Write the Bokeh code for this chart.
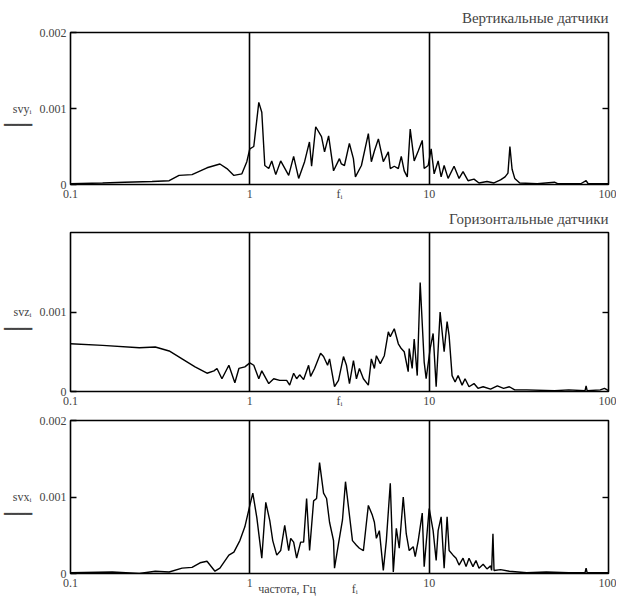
from bokeh.plotting import figure
from bokeh.layouts import column
from bokeh.models import FixedTicker, CustomJSTickFormatter, LinearAxis, Range1d
from bokeh.embed import file_html
from bokeh.resources import INLINE

# ---------------- data ----------------
freq_v = [0.1, 0.151, 0.2, 0.285, 0.355, 0.403, 0.476, 0.577, 0.681, 0.745, 0.815, 0.903,
          0.962, 1.0, 1.052, 1.122, 1.166, 1.212, 1.275, 1.325, 1.395, 1.486, 1.647, 1.755,
          1.872, 2.02, 2.15, 2.21, 2.33, 2.51, 2.61, 2.75, 2.93, 3.16, 3.24, 3.37, 3.59,
          3.78, 3.88, 4.19, 4.58, 4.76, 4.95, 5.21, 5.55, 5.92, 6.07, 6.39, 6.73, 6.99,
          7.26, 7.55, 7.84, 8.25, 8.69, 9.15, 9.38, 9.87, 10.26, 10.66, 11.22, 11.66, 12.12,
          12.75, 13.77, 14.68, 15.45, 16.47, 17.78, 18.96, 21, 23, 25, 26.5, 27.5, 28.2, 29,
          30, 32, 40, 50, 52, 70, 75, 77, 100]
svy = [0.00001, 0.00002, 0.00003, 0.00004, 0.00005, 0.00012, 0.00013, 0.00022, 0.00027,
       0.00021, 0.00012, 0.00014, 0.0003, 0.00047, 0.0005, 0.00108, 0.00095, 0.00025,
       0.00021, 0.00031, 0.00013, 0.00031, 0.00012, 0.00037, 0.00008, 0.0003, 0.00056,
       0.00024, 0.00076, 0.00063, 0.00043, 0.00064, 0.00018, 0.00034, 0.00027, 0.00025,
       0.00054, 0.00034, 0.0001, 0.00025, 0.00067, 0.0003, 0.00044, 0.0006, 0.0003,
       0.00043, 0.00021, 0.00024, 0.00021, 0.00037, 0.00018, 0.0001, 0.00073, 0.00031,
       0.00044, 0.00058, 0.00021, 0.00025, 0.00047, 0.00014, 0.00031, 0.0001, 0.00025,
       0.00008, 0.00024, 0.00008, 0.00017, 0.00005, 0.00007, 0.00002, 0.00004, 0.00002,
       0.00006, 0.0001, 0.00015, 0.0005, 0.0002, 0.00008, 0.00002, 0.00001, 0.00003,
       0.00001, 0.00001, 0.00005, 0.00001, 0.00001]

freq_z = [0.1, 0.151, 0.242, 0.297, 0.355, 0.419, 0.495, 0.577, 0.631, 0.656, 0.699, 0.764,
          0.825, 0.869, 0.938, 1.0, 1.052, 1.122, 1.166, 1.275, 1.359, 1.468, 1.605, 1.668,
          1.755, 1.824, 1.896, 1.995, 2.127, 2.182, 2.296, 2.48, 2.577, 2.713, 2.783, 2.966,
          3.122, 3.328, 3.458, 3.594, 3.783, 3.93, 4.084, 4.298, 4.58, 4.76, 4.95, 5.077,
          5.34, 5.623, 5.92, 6.07, 6.39, 6.73, 6.99, 7.26, 7.64, 7.74, 8.04, 8.25, 8.58,
          8.91, 9.38, 9.62, 10.13, 10.52, 10.94, 11.51, 12.12, 12.59, 12.92, 13.42, 13.95,
          14.5, 15.26, 15.85, 16.68, 17.78, 18.72, 20, 22, 24, 26, 28, 30, 35, 50, 60, 74,
          75, 76, 90, 95, 100]
svz = [0.0006, 0.00058, 0.00055, 0.00056, 0.00051, 0.00041, 0.00031, 0.00023, 0.00026,
       0.00029, 0.00016, 0.00033, 0.00011, 0.00029, 0.00031, 0.00036, 0.00033, 0.00016,
       0.00026, 0.0001, 0.00016, 0.00014, 0.00014, 0.00008, 0.00023, 0.00016, 0.00021,
       0.00015, 0.00033, 0.00019, 0.00029, 0.00048, 0.00044, 0.00033, 0.00041, 0.00006,
       0.00014, 0.00044, 0.00033, 0.0001, 0.00039, 0.00016, 0.00029, 0.00016, 0.00008,
       0.00041, 0.00029, 0.00045, 0.00035, 0.00045, 0.00075, 0.00069, 0.00079, 0.0006,
       0.00054, 0.0005, 0.00025, 0.00054, 0.00029, 0.00066, 0.0002, 0.00137, 0.00037,
       0.00016, 0.00054, 0.00073, 0.00006, 0.001, 0.0005, 0.00088, 0.0007, 0.0002,
       0.00012, 0.0002, 0.00008, 0.00016, 0.00006, 0.0001, 0.00004, 0.00006, 0.00003,
       0.00007, 0.00004, 0.00006, 0.00002, 0.00002, 0.00001, 0.00002, 0.00001, 0.00007,
       0.00001, 0.00002, 0.00004, 0.00001]

freq_x = [0.1, 0.171, 0.242, 0.297, 0.355, 0.419, 0.476, 0.528, 0.577, 0.639, 0.681, 0.764,
          0.815, 0.88, 0.938, 1.0, 1.039, 1.094, 1.166, 1.227, 1.292, 1.342, 1.413, 1.486,
          1.565, 1.647, 1.69, 1.755, 1.824, 1.92, 1.995, 2.073, 2.154, 2.268, 2.356, 2.448,
          2.577, 2.679, 2.783, 2.929, 2.966, 3.122, 3.286, 3.415, 3.548, 3.735, 3.93, 4.084,
          4.298, 4.467, 4.58, 4.823, 4.95, 5.077, 5.275, 5.55, 5.77, 6.07, 6.31, 6.56, 6.81,
          7.17, 7.45, 7.74, 8.15, 8.36, 8.69, 9.15, 9.38, 10.0, 10.52, 10.94, 11.22, 11.66,
          12.12, 12.59, 12.92, 13.59, 14.13, 14.68, 15.45, 16.06, 16.68, 17.55, 18.24,
          18.96, 20, 21, 22, 22.3, 22.68, 23.0, 25, 28, 35, 45, 60, 74, 75, 76, 100]
svx = [0.00001, 0.00002, 0.0, 0.00003, 0.00002, 0.00007, 0.00008, 0.00014, 0.00016, 0.00003,
       0.00007, 0.00024, 0.00028, 0.00043, 0.00061, 0.00089, 0.00105, 0.00073, 0.0002,
       0.00093, 0.00069, 0.00043, 0.00024, 0.0003, 0.00063, 0.0003, 0.00046, 0.00041,
       0.0002, 0.00041, 0.00041, 0.00098, 0.0003, 0.00095, 0.00098, 0.00145, 0.00105,
       0.00098, 0.00067, 0.00043, 0.00007, 0.00039, 0.0007, 0.0012, 0.00087, 0.00043,
       0.00037, 0.00033, 0.0003, 0.00066, 0.00089, 0.00076, 0.00067, 0.00046, 0.00056,
       0.00004, 0.00043, 0.00118, 0.00002, 0.00059, 0.00033, 0.001, 0.00052, 0.0003,
       0.00035, 0.00022, 0.00043, 0.00079, 0.00009, 0.00085, 0.00056, 0.00017, 0.00056,
       0.00074, 0.00007, 0.00074, 0.0003, 0.00024, 0.0002, 0.00011, 0.0002, 0.00009,
       0.0002, 0.00009, 0.00017, 0.00007, 0.00012, 0.00006, 0.0001, 0.00004, 0.00052,
       0.00004, 0.00005, 0.00003, 0.00001, 0.00002, 0.00001, 0.00001, 0.00007, 0.00001,
       0.00001]

x_ticks = [0.1, 1, 10, 100]
grid_ticks = [1, 10]
title_top = "Вертикальные датчики"
title_mid = "Горизонтальные датчики"
x_name = "частота, Гц"
x_var = "fᵢ"

SERIF = "Liberation Serif"
NB = "\u00a0"


def panel(f, v, height, top, bottom, title, tstand, ylab, yticks, xlab, xstand):
    p = figure(width=616, height=height, x_axis_type="log",
               x_range=Range1d(0.1, 100), y_range=Range1d(0, 0.002),
               output_backend="svg", toolbar_location=None, title=title,
               min_border_left=68, min_border_right=8,
               min_border_top=top, min_border_bottom=bottom)
    p.line(f, v, line_color="black", line_width=1.4)

    if title:
        p.title.text_font = SERIF
        p.title.text_font_size = "15px"
        p.title.text_font_style = "normal"
        p.title.align = "right"
        p.title.standoff = tstand

    p.outline_line_color = "black"
    p.outline_line_width = 1.6
    p.background_fill_color = "white"
    p.border_fill_color = "white"

    fmt = CustomJSTickFormatter(code="return tick.toString()")
    xa = p.xaxis[0]
    xa.ticker = FixedTicker(ticks=x_ticks)
    xa.formatter = fmt
    xa.major_tick_in = 0
    xa.major_tick_out = 0
    xa.minor_tick_line_color = None
    xa.axis_line_color = "black"
    xa.major_label_text_font = SERIF
    xa.major_label_text_font_size = "12px"
    xa.major_label_standoff = 5
    xa.axis_label = xlab
    xa.axis_label_text_font = SERIF
    xa.axis_label_text_font_size = "12px"
    xa.axis_label_text_font_style = "normal"
    xa.axis_label_standoff = xstand

    ya = p.yaxis[0]
    ya.ticker = FixedTicker(ticks=yticks)
    ya.formatter = fmt
    ya.major_tick_in = 6
    ya.major_tick_out = 0
    ya.major_tick_line_width = 1.4
    ya.minor_tick_line_color = None
    ya.axis_line_color = "black"
    ya.major_label_text_font = SERIF
    ya.major_label_text_font_size = "12px"
    ya.major_label_standoff = 4
    ya.axis_label = NB + "\n" + ylab + "\n" + "━━━━"
    ya.axis_label_orientation = "horizontal"
    ya.axis_label_text_font = SERIF
    ya.axis_label_text_font_size = "12px"
    ya.axis_label_text_font_style = "normal"
    ya.axis_label_standoff = 5

    ra = LinearAxis(ticker=FixedTicker(ticks=[0.001]),
                    formatter=CustomJSTickFormatter(code="return ''"),
                    major_tick_in=6, major_tick_out=0, major_tick_line_width=1.4,
                    minor_tick_line_color=None, axis_line_color=None,
                    major_label_standoff=0)
    p.add_layout(ra, "right")

    p.xgrid.ticker = FixedTicker(ticks=grid_ticks)
    p.xgrid.grid_line_color = "black"
    p.xgrid.grid_line_width = 1.6
    p.ygrid.visible = False
    return p


p1 = panel(freq_v, svy, 203, 32, 17, title_top, 14, "svyᵢ", [0, 0.001, 0.002], x_var, -14)
p2 = panel(freq_z, svz, 207, 29, 17, title_mid, 11, "svzᵢ", [0, 0.001], x_var, -14)
p3 = panel(freq_x, svx, 188, 10, 25, None, 0, "svxᵢ", [0, 0.001, 0.002],
           x_name + NB * 12 + x_var + NB * 21, -8)

layout = column(p1, p2, p3)
open("out.html", "w").write(file_html(layout, INLINE))
